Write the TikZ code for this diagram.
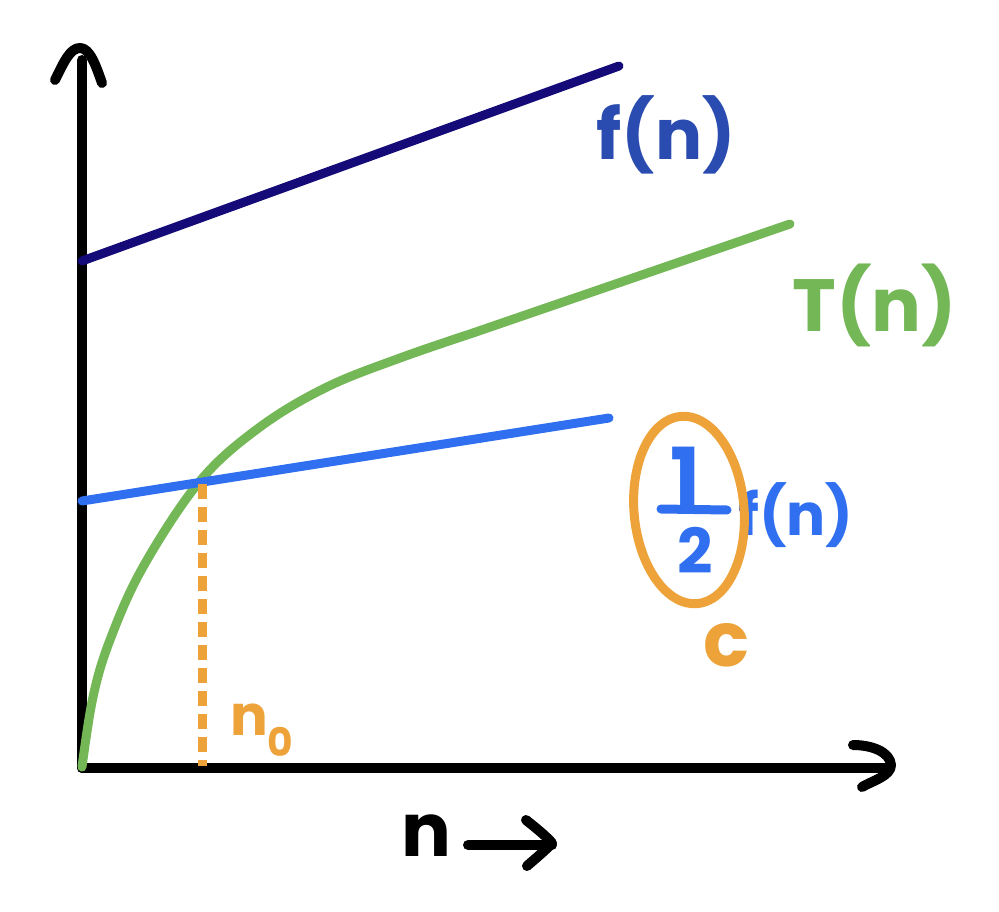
\documentclass[tikz,border=0pt]{standalone}
\usepackage{fontspec}
\setmainfont{Poppins}
\definecolor{navy}{HTML}{140A78}
\definecolor{fblue}{HTML}{2A4CB0}
\definecolor{tgreen}{HTML}{74B757}
\definecolor{lblue}{HTML}{3070F0}
\definecolor{corange}{HTML}{EDA33A}
\tikzset{
  axisline/.style={black, line width=10},
  curveline/.style={line width=9},
  lbl/.style={inner sep=0pt, outer sep=0pt, anchor=center},
}
\begin{document}
\begin{tikzpicture}[x=1pt,y=-1pt, line cap=round, line join=round]
\useasboundingbox (0,0) rectangle (999,912);
% coordinates
\coordinate (O) at (82,768);
\coordinate (ytop) at (82,60);
\coordinate (xend) at (888,768);
\coordinate (fa) at (82,261);
\coordinate (fb) at (619,66);
\coordinate (ha) at (82,501);
\coordinate (hb) at (609,418);
\coordinate (tend) at (790,224);
\coordinate (n0top) at (202,484);
\coordinate (n0bot) at (202,766);
\coordinate (arra) at (468,845);
\coordinate (arrb) at (552,845);
% axes
\draw[axisline] (O) -- (ytop);
\draw[axisline] (55,80) .. controls (64,62) and (70,48) .. (80,48) .. controls (90,48) and (96,66) .. (102,83);
\draw[axisline] (O) -- (xend);
\draw[axisline] (853,745) .. controls (872,745) and (890,752) .. (891,765) .. controls (891,776) and (872,781) .. (862,787);
% lines
\draw[curveline, navy] (fa) -- (fb);
\draw[curveline, tgreen] plot[smooth, tension=0.6] coordinates {(82,767) (93,697) (110,640) (143,567) (200,481) (260,427) (327,387) (400,358) (470,334)} -- (tend);
\draw[curveline, lblue] (ha) -- (hb);
\draw[corange, line width=9, line cap=butt, dash pattern=on 15 off 8] (n0top) -- (n0bot);
% labels
\node[lbl, fblue, font=\fontsize{70}{70}\selectfont\bfseries] (flab) at (666,135) {f(n)};
\node[lbl, tgreen, font=\fontsize{74}{74}\selectfont\bfseries] (tlab) at (875,305) {T(n)};
\node[lbl, lblue, font=\fontsize{80}{80}\selectfont\bfseries] (one) at (686,476) {1};
\node[lbl, lblue, font=\fontsize{62}{62}\selectfont\bfseries] (two) at (695,550) {2};
\coordinate (bara) at (661,509);
\coordinate (barb) at (727,510);
\draw[lblue, line width=9] (bara) -- (barb);
\node[lbl, lblue, font=\fontsize{58}{58}\selectfont\bfseries] (hf) at (796,515) {f(n)};
\draw[corange, line width=9] (689,510) ellipse [x radius=55, y radius=94, rotate=5];
\node[lbl, corange, font=\fontsize{76}{76}\selectfont\bfseries] (clab) at (726,645) {c};
\node[lbl, corange, font=\fontsize{56}{56}\selectfont\bfseries] (n0lab) at (262,730) {n\textsubscript{0}};
\node[lbl, black, font=\fontsize{74}{74}\selectfont\bfseries] (nlab) at (426,836) {n};
\draw[axisline] (arra) -- (arrb);
\draw[axisline] (526,820) .. controls (536,828) and (546,836) .. (552,843) .. controls (546,850) and (536,858) .. (527,866);
\end{tikzpicture}
\end{document}
